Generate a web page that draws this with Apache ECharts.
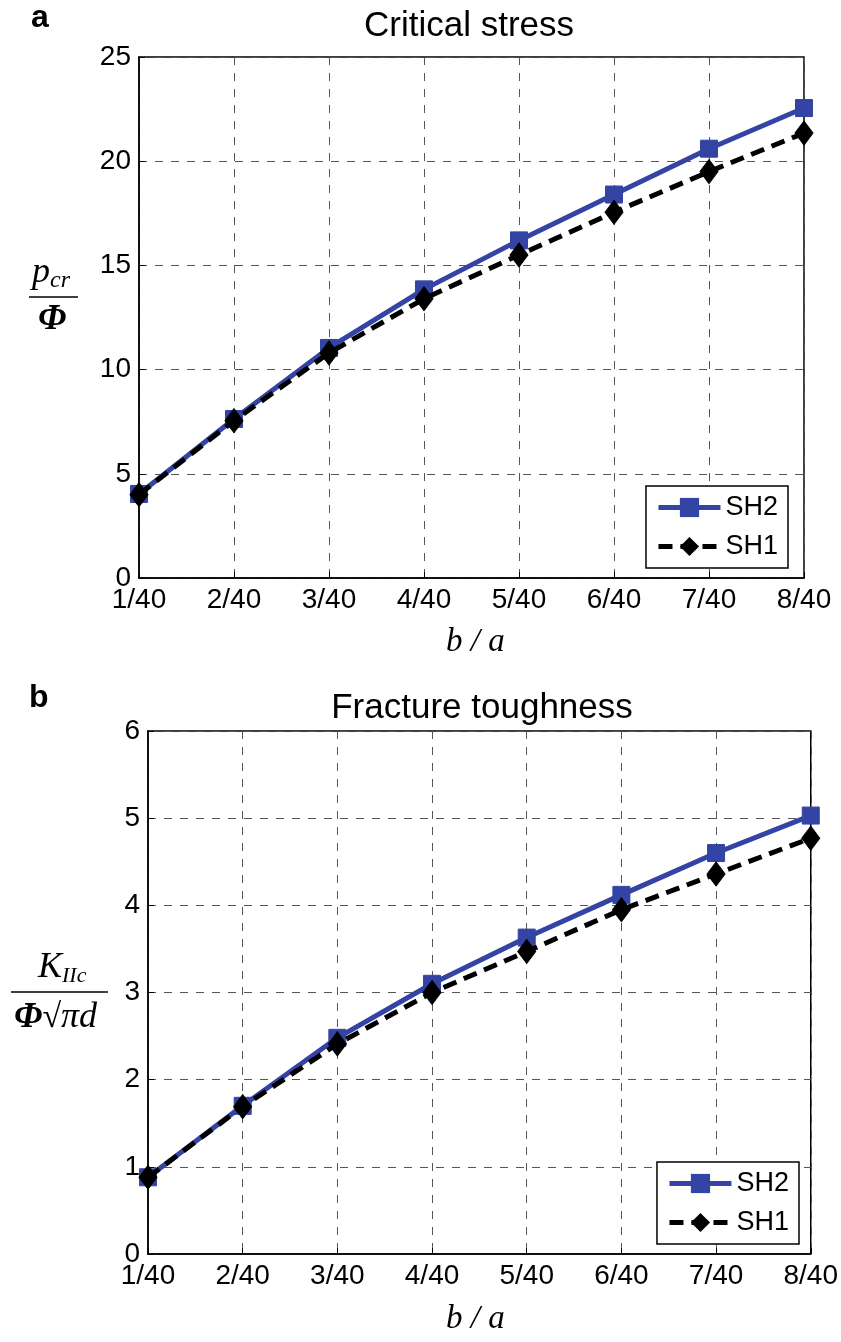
<!DOCTYPE html>
<html>
<head>
<meta charset="UTF-8">
<title>stress</title>
<script src="https://cdn.jsdelivr.net/npm/echarts@6/dist/echarts.min.js"></script>
<style>
  html, body { margin: 0; padding: 0; background: #fff; }
  #chart { width: 841px; height: 1342px; }
</style>
</head>
<body>
<div id="chart"></div>
<script>
// data
var ratios = ['1/40', '2/40', '3/40', '4/40', '5/40', '6/40', '7/40', '8/40'];
var stressSH2 = [4.03, 7.63, 11.04, 13.85, 16.2, 18.4, 20.6, 22.55];
var stressSH1 = [4.0, 7.55, 10.8, 13.4, 15.5, 17.55, 19.5, 21.35];
var toughSH2 = [0.88, 1.70, 2.48, 3.10, 3.63, 4.12, 4.60, 5.03];
var toughSH1 = [0.88, 1.69, 2.41, 3.00, 3.47, 3.95, 4.36, 4.77];

var blue = '#3444a4';
var font = 'Liberation Sans, Arial, sans-serif';
var serif = 'Liberation Serif, Times New Roman, serif';

function xAx(idx) {
  return {
    type: 'category', gridIndex: idx, data: ratios, boundaryGap: false,
    axisLine: { lineStyle: { color: '#000', width: 1.5 } },
    axisTick: { inside: true, length: 6, lineStyle: { color: '#000' } },
    axisLabel: { color: '#000', fontSize: 28, fontFamily: font, margin: 8 },
    splitLine: { show: true, lineStyle: { color: '#555', type: [8, 8], width: 1 } }
  };
}
function yAx(idx, max, step) {
  return {
    type: 'value', gridIndex: idx, min: 0, max: max, interval: step,
    axisLine: { show: true, lineStyle: { color: '#000', width: 1.5 } },
    axisTick: { show: true, inside: true, length: 6, lineStyle: { color: '#000' } },
    axisLabel: { color: '#000', fontSize: 28, fontFamily: font, margin: 8 },
    splitLine: { show: true, lineStyle: { color: '#555', type: [8, 8], width: 1 } }
  };
}
function sh2(idx, vals) {
  return {
    name: 'SH2', type: 'line', xAxisIndex: idx, yAxisIndex: idx, data: vals,
    symbol: 'rect', symbolSize: 17, z: 2,
    lineStyle: { color: blue, width: 5 },
    itemStyle: { color: blue, borderColor: blue }
  };
}
function sh1(idx, vals) {
  return {
    name: 'SH1', type: 'line', xAxisIndex: idx, yAxisIndex: idx, data: vals,
    symbol: 'diamond', symbolSize: [18, 24], z: 3,
    lineStyle: { color: '#000', width: 5, type: [14, 8] },
    itemStyle: { color: '#000', borderColor: '#000' }
  };
}
function leg(right, bottom) {
  return {
    data: ['SH2', 'SH1'], orient: 'vertical', right: right, bottom: bottom,
    backgroundColor: '#fff', borderColor: '#000', borderWidth: 1.5,
    padding: [8, 10, 8, 10], itemGap: 12, itemWidth: 62, itemHeight: 24,
    lineStyle: { width: 5 },
    textStyle: { color: '#000', fontSize: 27, fontFamily: font }
  };
}

var chart = echarts.init(document.getElementById('chart'));
chart.setOption({
  animation: false,
  backgroundColor: '#fff',
  title: [
    { text: 'Critical stress', left: 464, top: 4, textAlign: 'center',
      textStyle: { fontSize: 35, fontWeight: 'normal', color: '#000', fontFamily: font } },
    { text: 'Fracture toughness', left: 477, top: 686, textAlign: 'center',
      textStyle: { fontSize: 35, fontWeight: 'normal', color: '#000', fontFamily: font } }
  ],
  grid: [
    { left: 139, right: 37, top: 57, height: 521, show: true, borderColor: '#000', borderWidth: 1.5 },
    { left: 148, right: 29, top: 731, height: 523, show: true, borderColor: '#000', borderWidth: 1.5 }
  ],
  legend: [leg(53, 774), leg(42, 98)],
  xAxis: [xAx(0), xAx(1)],
  yAxis: [yAx(0, 25, 5), yAx(1, 6, 1)],
  series: [sh2(0, stressSH2), sh1(0, stressSH1), sh2(1, toughSH2), sh1(1, toughSH1)],
  graphic: [
    { type: 'text', left: 31, top: 2, style: { text: 'a', fontSize: 32, fontWeight: 'bold', fontFamily: font, fill: '#000' } },
    { type: 'text', left: 29, top: 682, style: { text: 'b', fontSize: 32, fontWeight: 'bold', fontFamily: font, fill: '#000' } },
    // y label a
    { type: 'text', left: 32, top: 255, style: {
      text: '{p|p}{s|cr}', rich: {
        p: { fontSize: 36, fontStyle: 'italic', fontFamily: serif, fill: '#000' },
        s: { fontSize: 24, fontStyle: 'italic', fontFamily: serif, fill: '#000', padding: [16, 0, 0, 0] } } } },
    { type: 'line', shape: { x1: 29, y1: 297, x2: 78, y2: 297 }, style: { stroke: '#000', lineWidth: 1.5 } },
    { type: 'text', left: 38, top: 302, style: { text: 'Φ', fontSize: 36, fontStyle: 'italic', fontWeight: 'bold', fontFamily: serif, fill: '#000' } },
    // y label b
    { type: 'text', left: 38, top: 950, style: {
      text: '{p|K}{s|IIc}', rich: {
        p: { fontSize: 36, fontStyle: 'italic', fontFamily: serif, fill: '#000' },
        s: { fontSize: 22, fontStyle: 'italic', fontFamily: serif, fill: '#000', padding: [16, 0, 0, 0] } } } },
    { type: 'line', shape: { x1: 11, y1: 992, x2: 108, y2: 992 }, style: { stroke: '#000', lineWidth: 1.5 } },
    { type: 'text', left: 14, top: 1000, style: {
      text: '{f|Φ}{r|√}{q|πd}', rich: {
        f: { fontSize: 36, fontStyle: 'italic', fontWeight: 'bold', fontFamily: serif, fill: '#000' },
        r: { fontSize: 34, fontFamily: serif, fill: '#000' },
        q: { fontSize: 36, fontStyle: 'italic', fontFamily: serif, fill: '#000' } } } },
    // x labels
    { type: 'text', left: 446, top: 626, style: { text: 'b / a', fontSize: 33, fontStyle: 'italic', fontFamily: serif, fill: '#000' } },
    { type: 'text', left: 446, top: 1303, style: { text: 'b / a', fontSize: 33, fontStyle: 'italic', fontFamily: serif, fill: '#000' } }
  ]
});
</script>
</body>
</html>
